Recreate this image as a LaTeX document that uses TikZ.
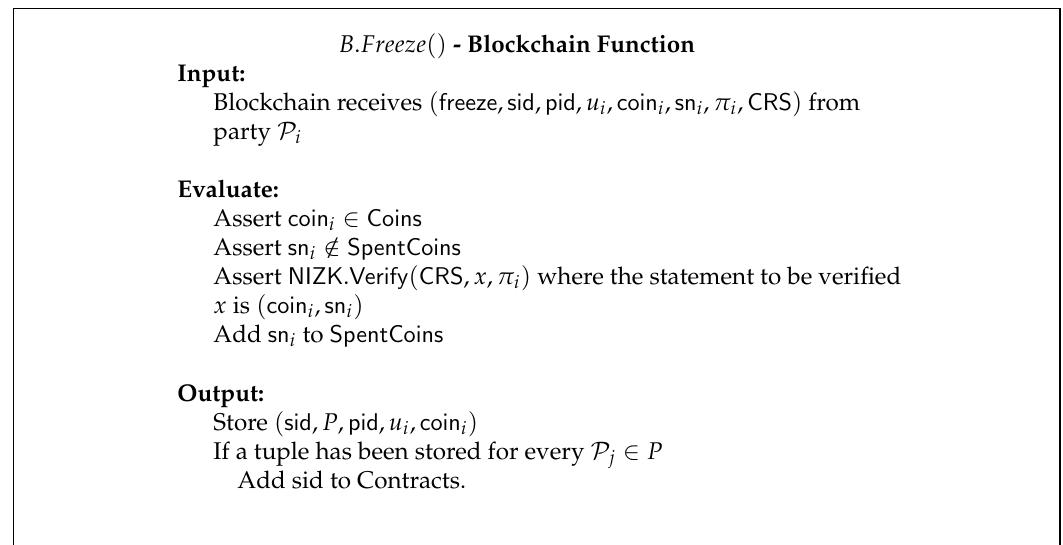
\documentclass[tikz,border=0pt]{standalone}
\usepackage[T1]{fontenc}
\usepackage{mathpazo}
\usepackage{amssymb}
\newcommand{\tsf}[1]{\mathsf{#1}}
\begin{document}
\begin{tikzpicture}[x=0.4132pt,y=-0.4132pt,
  ln/.style={anchor=base west,inner sep=0pt,font=\fontsize{10}{12}\selectfont},
  frame/.style={draw=black,line width=0.8pt}]
\useasboundingbox (0,0) rectangle (1063,544);
\clip (0,0) rectangle (1063,544);
\draw[frame] (13.5,8.5) rectangle (1060,600);
\node[ln] (title) at (338,52) {$B.Freeze()$ \textbf{- Blockchain Function}};
\node[ln] (in) at (177,81) {\textbf{Input:}};
\node[ln] (in1) at (213,110) {Blockchain receives $(\tsf{freeze},\tsf{sid},\tsf{pid},u_i,\tsf{coin}_i,\tsf{sn}_i,\pi_i,\tsf{CRS})$ from};
\node[ln] (in2) at (213,139) {party $\mathcal{P}_i$};
\node[ln] (ev) at (177,197) {\textbf{Evaluate:}};
\node[ln] (ev1) at (213,226) {Assert $\tsf{coin}_i\in\tsf{Coins}$};
\node[ln] (ev2) at (213,255) {Assert $\tsf{sn}_i\notin\tsf{SpentCoins}$};
\node[ln] (ev3) at (213,284) {Assert $\tsf{NIZK.Verify}(\tsf{CRS},x,\pi_i)$ where the statement to be verified};
\node[ln] (ev4) at (213,313) {$x$ is $(\tsf{coin}_i,\tsf{sn}_i)$};
\node[ln] (ev5) at (213,342) {Add $\tsf{sn}_i$ to $\tsf{SpentCoins}$};
\node[ln] (out) at (177,401) {\textbf{Output:}};
\node[ln] (out1) at (213,430) {Store $(\tsf{sid},P,\tsf{pid},u_i,\tsf{coin}_i)$};
\node[ln] (out2) at (213,459) {If a tuple has been stored for every $\mathcal{P}_j\in P$};
\node[ln] (out3) at (237,488) {Add sid to Contracts.};
\end{tikzpicture}
\end{document}
